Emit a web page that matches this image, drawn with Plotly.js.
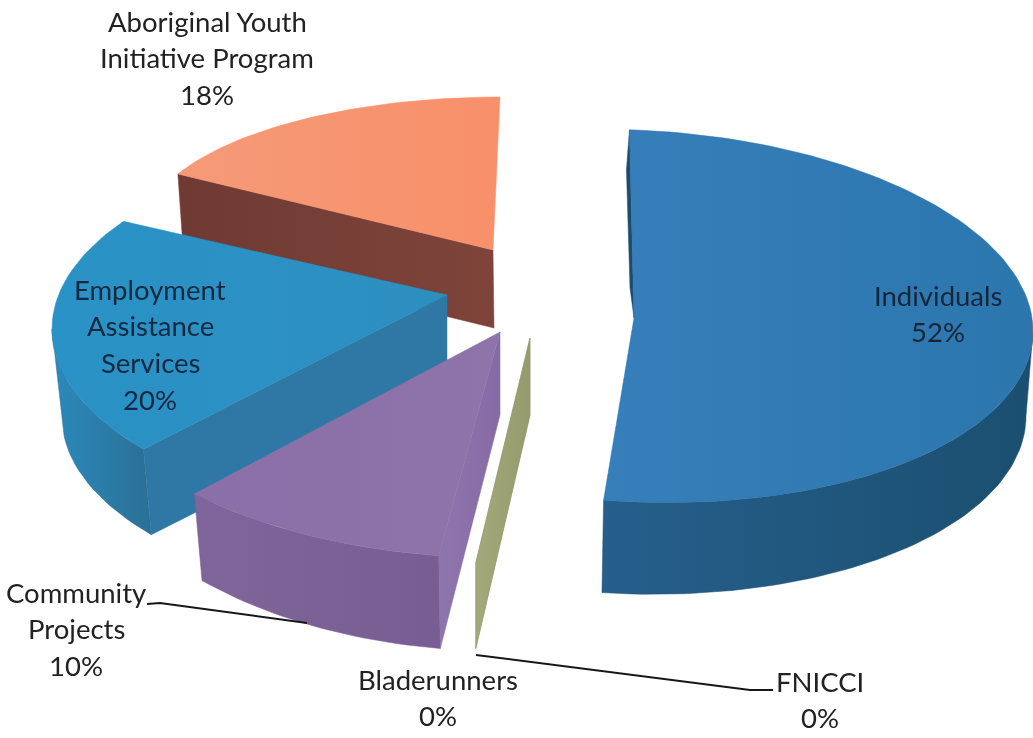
<!DOCTYPE html>
<html>
<head>
<meta charset="utf-8">
<script src="https://cdn.plot.ly/plotly-3.0.1.min.js"></script>
<style>html,body{margin:0;padding:0;background:#fff}#chart{width:1033px;height:738px;filter:blur(0.6px)}</style>
</head>
<body>
<div id="chart"></div>
<script>
// ---- chart data (clockwise from the top) ----
var categories = ['Individuals', 'FNICCI', 'Bladerunners', 'Community Projects', 'Employment Assistance Services', 'Aboriginal Youth Initiative Program'];
var shares = [52, 0, 0, 10, 20, 18];
var labelLines = [['Individuals'], ['FNICCI'], ['Bladerunners'], ['Community', 'Projects'], ['Employment', 'Assistance', 'Services'], ['Aboriginal Youth', 'Initiative Program']];

// ---- styling / layout ----
var firstAngle = -1.5;
var drawOrder = [5, 4, 3, 2, 1, 0];
// top ellipse and bottom ellipse [cx, cy, rx, ry, shear], apex top, apex bottom, angle offset, span factor
var topArc = [[635,316,398,186,15],[530,338,510,226,0],[530,338,510,226,0],[500,330,440,228,0],[477,329,425,194,0],[500,231,356,134,0]];
var botArc = [[633,406,393,188,10],[530,400,510,250,0],[530,400,510,250,0],[500,400,429,251,0],[477,417,415,190,0],[500,309,350,134,0]];
var apexTop = [[634,318],[530,338],[530,338],[500,332],[447,295],[493,250]];
var apexBot = [[634,318],[530,415],[530,415],[500,415],[447,385],[494,328]];
var angleOffset = [0.7, 0.4, 0.4, 2.3, 10, 1.5];
var spanFactor = [0.99, 1, 1, 1, 1, 1];
var topColors = [['#367fba','#2c76ae'],['#a9ad80','#9fa577'],['#a9ad80','#9fa577'],['#8a6fa8','#8f74ab'],['#2a92c6','#2d8fc0'],['#f59a78','#f8906a']];
var rimColors = [['#265f8c','#1b4f70'],['#a0a578','#a0a578'],['#a0a578','#a0a578'],['#7f6599','#785d92'],['#2b8abb','#2b6f97'],['#7a3f38','#7a3f38']];
var cutColors = [['#1d4d6e','#1d4d6e'],['#a4a97b','#969b6e'],['#a4a97b','#969b6e'],['#8f75ad','#866aa5'],['#2f78a5','#2f78a5'],['#6f3a33','#7e443a']];
var labelX = [938, 820, 438, 76, 150, 207];
var labelY = [295, 681, 679, 592, 289, 21];
var lineGap = 36.8;
var labelFont = 'Lato, Carlito, sans-serif';
var labelSize = 27.5;
var labelColors = ['#16263a','#222','#222','#222','#14283f','#222'];
var leaders = [
  {x:[147,160,307], y:[604,603,623]},
  {x:[476,750,773], y:[655,690,690]}
];

function point(e, deg){
  var t = deg * Math.PI / 180;
  return [e[0] + e[2] * Math.sin(t), e[1] - e[3] * Math.cos(t) + e[4] * Math.sin(t)];
}
function arc(e, a, b){
  var pts = [], n = Math.max(1, Math.ceil(Math.abs(b - a) / 1.5));
  for (var k = 0; k <= n; k++) pts.push(point(e, a + (b - a) * k / n));
  return pts;
}
function poly(pts, colors, type){
  var xs = pts.map(function(p){return p[0];});
  var ys = pts.map(function(p){return p[1];});
  xs.push(xs[0]); ys.push(ys[0]);
  return {type:'scatter', mode:'lines', x:xs, y:ys, fill:'toself', hoverinfo:'skip',
    line:{width:0.5, color:colors[1]}, fillcolor:colors[0],
    fillgradient:{type:type||'horizontal', colorscale:[[0,colors[0]],[1,colors[1]]]}, showlegend:false};
}

var total = shares.reduce(function(a,b){return a+b;},0);
var starts = [], cur = firstAngle;
shares.forEach(function(s){ starts.push(cur); cur += s / total * 360; });

var traces = [];
drawOrder.forEach(function(i){
  var span = shares[i] / total * 360 * spanFactor[i];
  var a = starts[i] + angleOffset[i], b = a + span;
  // visible outer wall: only the part of the rim facing the viewer
  var w1 = Math.max(a, 90), w2 = Math.min(b, 270);
  if (w2 > w1) {
    traces.push(poly(arc(topArc[i], w1, w2).concat(arc(botArc[i], w2, w1)), rimColors[i]));
  }
  // radial cut face
  if (i === 0) {
    var r = point(topArc[i], a);
    traces.push(poly([apexTop[i], r, [r[0]-3, r[1]+40], [apexTop[i][0]-4, apexTop[i][1]-30]], cutColors[i]));
  } else {
    traces.push(poly([apexTop[i], point(topArc[i], a), point(botArc[i], a), apexBot[i]], cutColors[i]));
  }
  // top face
  if (span > 0) {
    traces.push(poly([apexTop[i]].concat(arc(topArc[i], a, b)), topColors[i]));
  }
});
leaders.forEach(function(l){
  traces.push({type:'scatter', mode:'lines', x:l.x, y:l.y, hoverinfo:'skip', showlegend:false,
    line:{color:'#15171c', width:2}});
});

var annotations = [];
categories.forEach(function(c, i){
  labelLines[i].concat([shares[i] + '%']).forEach(function(t, j){
    annotations.push({xref:'x', yref:'y', x:labelX[i], y:labelY[i] + j * lineGap, text:t,
      showarrow:false, xanchor:'center', yanchor:'middle',
      font:{family:labelFont, size:labelSize, color:labelColors[i]}});
  });
});

Plotly.newPlot('chart', traces, {
  width:1033, height:738, margin:{l:0,r:0,t:0,b:0,pad:0},
  paper_bgcolor:'#ffffff', plot_bgcolor:'#ffffff', showlegend:false,
  xaxis:{range:[0,1033], visible:false, fixedrange:true},
  yaxis:{range:[738,0], visible:false, fixedrange:true},
  annotations:annotations
}, {displayModeBar:false, staticPlot:true});
</script>
</body>
</html>
